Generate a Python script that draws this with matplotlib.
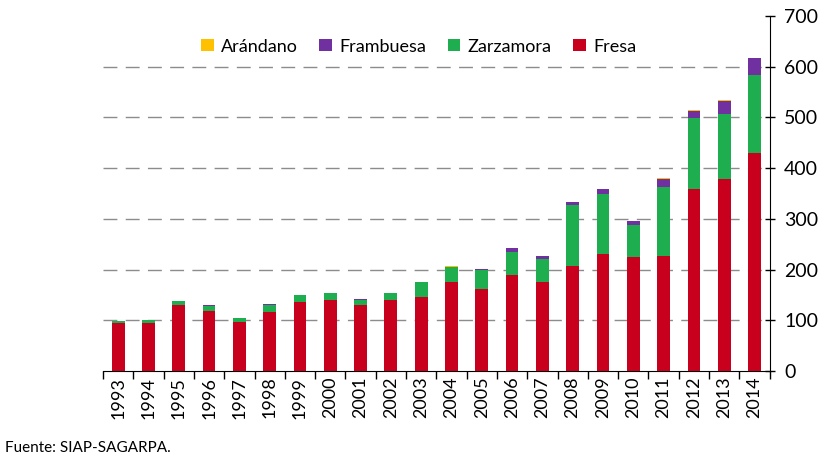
import matplotlib
matplotlib.use("Agg")
import matplotlib.pyplot as plt
import numpy as np

years = ["1993", "1994", "1995", "1996", "1997", "1998", "1999", "2000", "2001", "2002", "2003",
         "2004", "2005", "2006", "2007", "2008", "2009", "2010", "2011", "2012", "2013", "2014"]
fresa = [95, 95, 130, 118, 97, 117, 137, 141, 130, 141, 146,
         176, 162, 190, 175, 207, 231, 225, 227, 359, 378, 429]
zarzamora = [4, 5, 8, 11, 7, 14, 12, 13, 11, 13, 29,
             29, 37, 44, 45, 120, 117, 62, 136, 139, 129, 155]
frambuesa = [0.5, 0.5, 0.5, 0.5, 0.5, 0.5, 0.5, 0.5, 0.5, 0.5, 0.5,
             1, 2, 8, 6, 6, 10, 8, 16, 15, 26, 33]
arandano = [0, 0, 0, 0, 0, 0, 0, 0, 0, 0, 0,
            0.5, 0.3, 0.3, 0.5, 0.3, 0.3, 0.3, 0.5, 0.5, 0.6, 0.6]
yticks = [0, 100, 200, 300, 400, 500, 600, 700]

c_fresa = "#C8001E"
c_zarz = "#1FAE4F"
c_framb = "#7030A0"
c_aran = "#FFC000"

plt.rcParams['font.family'] = ['Lato', 'DejaVu Sans']

fig = plt.figure(figsize=(8.24, 4.65), dpi=100)
ax = fig.add_axes([0.125, 0.202, 0.809, 0.764])

x = np.arange(len(years))
w = 0.42
b1 = np.array(fresa, dtype=float)
b2 = b1 + np.array(zarzamora)
b3 = b2 + np.array(frambuesa)

h_fresa = ax.bar(x, fresa, w, color=c_fresa, zorder=3)
h_zarz = ax.bar(x, zarzamora, w, bottom=b1, color=c_zarz, zorder=3)
h_framb = ax.bar(x, frambuesa, w, bottom=b2, color=c_framb, zorder=3)
h_aran = ax.bar(x, arandano, w, bottom=b3, color=c_aran, zorder=3)

ax.set_xlim(-0.5, len(years) - 0.5)
ax.set_ylim(0, 700)
ax.yaxis.tick_right()
ax.set_yticks(yticks)
ax.set_yticklabels([str(v) for v in yticks], fontsize=14)
ax.tick_params(axis='y', direction='inout', length=7, width=1, pad=7)

ax.set_xticks(x)
ax.set_xticklabels(years, rotation=90, fontsize=13)
ax.set_xticks(np.arange(-0.5, len(years)), minor=True)
ax.tick_params(axis='x', which='major', length=0, pad=4)
ax.tick_params(axis='x', which='minor', direction='out', length=6, width=1)

for s in ['top', 'left']:
    ax.spines[s].set_visible(False)
ax.spines['right'].set_color('black')
ax.spines['bottom'].set_color('black')

for v in yticks[1:-1]:
    ax.axhline(v, color='#8C8C8C', lw=1.0, dashes=(10, 6), zorder=1)

fig.legend([h_aran, h_framb, h_zarz, h_fresa],
           ["Arándano", "Frambuesa", "Zarzamora", "Fresa"],
           loc='center', bbox_to_anchor=(0.508, 0.9), ncol=4, frameon=False,
           fontsize=13, handlelength=0.7, handleheight=0.7, handletextpad=0.4,
           columnspacing=1.2)

fig.text(0.006, 0.022, "Fuente: SIAP-SAGARPA.", fontsize=11, ha='left', va='bottom')

fig.savefig("out.png", dpi=100)
